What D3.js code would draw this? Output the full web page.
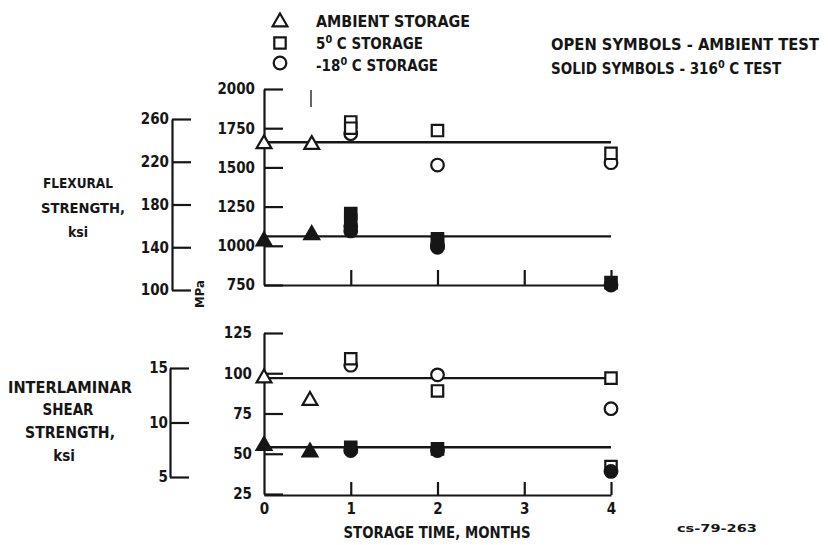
<!DOCTYPE html>
<html><head><meta charset="utf-8">
<script src="https://cdn.jsdelivr.net/npm/d3@7"></script>
<style>
body{margin:0;background:#fff}
svg{display:block;background:#fff}
text{font-family:"DejaVu Sans Condensed","DejaVu Sans",sans-serif;font-stretch:condensed;font-weight:bold;fill:#161616}
</style></head><body>
<svg id="c" width="828" height="545"></svg>
<script>
// ---------- data ----------
const monthTicks = [0, 1, 2, 3, 4];
const flexMpaTicks = [750, 1000, 1250, 1500, 1750, 2000];
const flexKsiTicks = [100, 140, 180, 220, 260];
const shearMpaTicks = [25, 50, 75, 100, 125];
const shearKsiTicks = [5, 10, 15];

// flexural strength, MPa (open = ambient test, solid = 316 C test)
const flexAmbientOpen = [{t: 0, v: 1650}, {t: 0.55, v: 1645}];
const flex5COpen      = [{t: 1, v: 1790}, {t: 1, v: 1750}, {t: 2, v: 1735}, {t: 4, v: 1590}];
const flexM18Open     = [{t: 1, v: 1715}, {t: 2, v: 1515}, {t: 4, v: 1530}];
const flexAmbientSolid = [{t: 0, v: 1030}, {t: 0.55, v: 1070}];
const flex5CSolid      = [{t: 1, v: 1205}, {t: 1, v: 1165}, {t: 2, v: 1045}, {t: 2, v: 1020}, {t: 4, v: 765}];
const flexM18Solid     = [{t: 1, v: 1125}, {t: 1, v: 1095}, {t: 2, v: 1000}, {t: 2, v: 990}, {t: 4, v: 750}];
const flexMeanLines = [1660, 1060];

// interlaminar shear strength, MPa
const shearAmbientOpen = [{t: 0, v: 97}, {t: 0.53, v: 83}];
const shear5COpen      = [{t: 1, v: 109}, {t: 2, v: 89}, {t: 4, v: 97}, {t: 4, v: 42}];
const shearM18Open     = [{t: 1, v: 105}, {t: 2, v: 99}, {t: 4, v: 78}];
const shearAmbientSolid = [{t: 0, v: 55}, {t: 0.53, v: 51}];
const shear5CSolid      = [{t: 1, v: 54}, {t: 2, v: 53}];
const shearM18Solid     = [{t: 1, v: 52}, {t: 2, v: 52}, {t: 4, v: 39}];
const shearMeanLines = [97, 54];

// ---------- chart ----------
const ink = "#161616";
const svg = d3.select("#c");

const x  = d3.scaleLinear().domain([0, 4]).range([264, 611]);
const yF = d3.scaleLinear().domain([750, 2000]).range([285, 89]);
const kF = d3.scaleLinear().domain([100, 260]).range([290, 119]);
const yS = d3.scaleLinear().domain([25, 125]).range([494, 333]);
const kS = d3.scaleLinear().domain([5, 15]).range([477, 368]);
const fmt = d3.format("d");

function styleAxis(g, fs) {
  g.attr("font-family", null).attr("font-size", null);
  g.select(".domain").attr("stroke", ink).attr("stroke-width", 2.2);
  g.selectAll(".tick line").attr("stroke", ink).attr("stroke-width", 2.2);
  g.selectAll(".tick text").attr("fill", ink).attr("font-size", fs).attr("font-weight", "bold");
}

// left-side axes (ticks pointing right)
[[yF, flexMpaTicks, 264, 9], [kF, flexKsiTicks, 172, 3], [yS, shearMpaTicks, 264, 12], [kS, shearKsiTicks, 170, 2]]
  .forEach(([sc, tv, px, pad]) => {
    const g = svg.append("g").attr("transform", `translate(${px},0)`)
      .call(d3.axisLeft(sc).tickValues(tv).tickFormat(fmt).tickSizeInner(-19).tickSizeOuter(0).tickPadding(pad));
    styleAxis(g, 15);
  });

// x axes
const gxTop = svg.append("g").attr("transform", "translate(0,285)")
  .call(d3.axisBottom(x).tickValues(monthTicks.slice(1)).tickSizeInner(-15).tickSizeOuter(0).tickFormat(""));
styleAxis(gxTop, 15);
const gxBot = svg.append("g").attr("transform", "translate(0,495)")
  .call(d3.axisBottom(x).tickValues(monthTicks).tickFormat(fmt).tickSizeInner(-13).tickSizeOuter(0).tickPadding(8));
styleAxis(gxBot, 15);
gxBot.selectAll(".tick").filter(d => d === 0).select("line").remove();

// mean lines
function meanLines(vals, ys) {
  svg.append("g").selectAll("line").data(vals).join("line")
    .attr("x1", x(0)).attr("x2", x(4))
    .attr("y1", d => ys(d)).attr("y2", d => ys(d))
    .attr("stroke", ink).attr("stroke-width", 2.4);
}
meanLines(flexMeanLines, yF);
meanLines(shearMeanLines, yS);

const sym = {
  tri: d3.symbol().type(d3.symbolTriangle).size(95)(),
  sq: d3.symbol().type(d3.symbolSquare).size(130)(),
  circ: d3.symbol().type(d3.symbolCircle).size(125)()
};
function points(data, ys, shape, solid) {
  svg.append("g").selectAll("path").data(data).join("path")
    .attr("d", sym[shape])
    .attr("transform", d => `translate(${x(d.t)},${ys(d.v)})`)
    .attr("fill", solid ? ink : "#fff")
    .attr("stroke", ink).attr("stroke-width", 2.2);
}
points(flexAmbientOpen, yF, "tri", false);
points(flexM18Open, yF, "circ", false);
points(flex5COpen, yF, "sq", false);
points(flexAmbientSolid, yF, "tri", true);
points(flex5CSolid, yF, "sq", true);
points(flexM18Solid, yF, "circ", true);

points(shearAmbientOpen, yS, "tri", false);
points(shearM18Open, yS, "circ", false);
points(shear5COpen, yS, "sq", false);
points(shearAmbientSolid, yS, "tri", true);
points(shear5CSolid, yS, "sq", true);
points(shearM18Solid, yS, "circ", true);

// scan mark under legend
svg.append("line").attr("x1", 311).attr("x2", 311).attr("y1", 90).attr("y2", 107)
  .attr("stroke", "#333").attr("stroke-width", 1.5);

// ---------- texts ----------
function txt(str, px, py, opts = {}) {
  const t = svg.append("text").attr("x", px).attr("y", py)
    .attr("font-size", opts.fs || 15)
    .attr("text-anchor", opts.anchor || "start");
  if (opts.len) t.attr("textLength", opts.len).attr("lengthAdjust", "spacingAndGlyphs");
  t.text(str);
  return t;
}
function degText(before, after, px, py, fs) {
  const t = svg.append("text").attr("x", px).attr("y", py).attr("font-size", fs);
  t.append("tspan").text(before);
  t.append("tspan").attr("font-size", fs * 0.72).attr("dy", -6).text("0");
  t.append("tspan").attr("dy", 6).text(after);
  return t;
}

// legend
const legendRows = [{shape: "tri", y: 22}, {shape: "sq", y: 43}, {shape: "circ", y: 63}];
svg.append("g").selectAll("path").data(legendRows).join("path")
  .attr("d", d => sym[d.shape]).attr("transform", d => `translate(280,${d.y})`)
  .attr("fill", "#fff").attr("stroke", ink).attr("stroke-width", 2.2);
txt("AMBIENT STORAGE", 316, 27, {len: 154});
degText("5", " C STORAGE", 316, 49, 15);
degText("-18", " C STORAGE", 316, 71, 15);

txt("OPEN SYMBOLS - AMBIENT TEST", 551, 50, {len: 268});
degText("SOLID SYMBOLS - 316", " C TEST", 551, 74, 15);

// panel labels
txt("FLEXURAL", 78, 188, {anchor: "middle", fs: 14, len: 70});
txt("STRENGTH,", 83, 213, {anchor: "middle", fs: 14, len: 84});
txt("ksi", 78, 237, {anchor: "middle", fs: 14});

txt("INTERLAMINAR", 70, 393, {anchor: "middle", len: 124});
txt("SHEAR", 68, 415, {anchor: "middle", len: 51});
txt("STRENGTH,", 70, 438, {anchor: "middle", len: 90});
txt("ksi", 64, 461, {anchor: "middle"});

svg.append("text").attr("transform", "translate(204,294) rotate(-90)")
  .attr("text-anchor", "middle").attr("font-size", 13).text("MPa");

txt("STORAGE TIME, MONTHS", 437, 538, {anchor: "middle", len: 187});
txt("cs-79-263", 677, 532, {fs: 10, len: 80});
</script>
</body></html>
